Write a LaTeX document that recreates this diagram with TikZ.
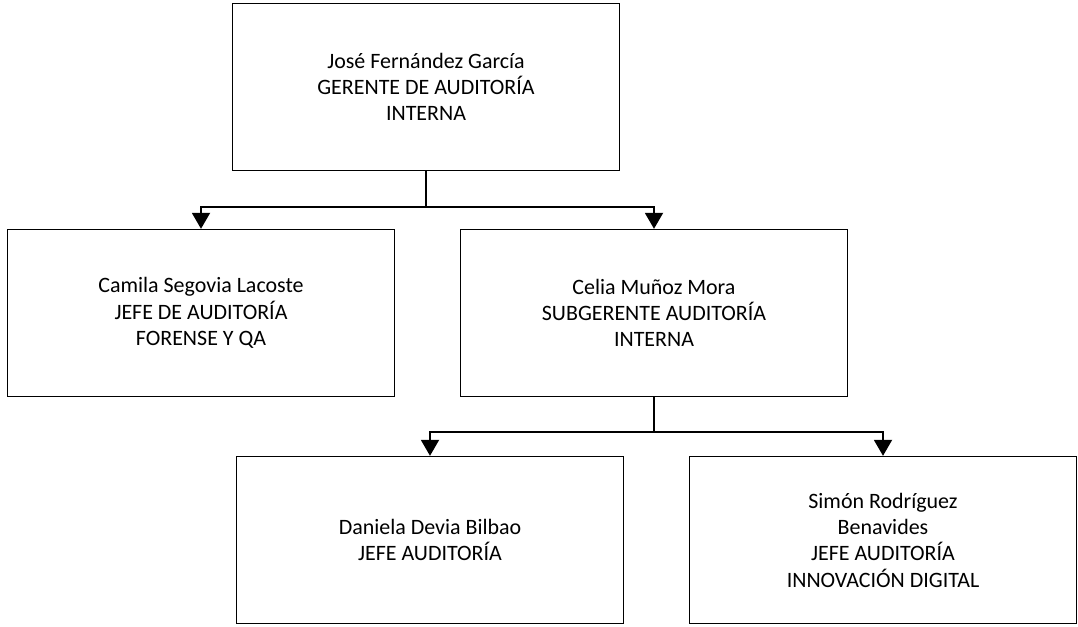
\documentclass[tikz,border=0pt]{standalone}
\usepackage{fontspec}
\setmainfont{Carlito}
\usetikzlibrary{arrows.meta,positioning}

\begin{document}
\begin{tikzpicture}[
    x=0.02cm, y=-0.02cm,
    puesto/.style={rectangle, draw, line width=0.8pt, minimum width=7.74cm, minimum height=3.34cm,
      align=center, font=\fontsize{12.5}{15}\selectfont},
    enlace/.style={line width=1.1pt},
    flecha/.style={enlace, -{Triangle[width=0.36cm, length=0.32cm]}}
]
\useasboundingbox (0,0) rectangle (1078,626);

% Gerencia
\node (gerente) at (426,87) [puesto] {José Fernández García\\GERENTE DE AUDITORÍA\\INTERNA};

% Jefaturas directas
\node (forense) at (201,313) [puesto] {Camila Segovia Lacoste\\JEFE DE AUDITORÍA\\FORENSE Y QA};
\node (subgerente) at (654,313) [puesto] {Celia Muñoz Mora\\SUBGERENTE AUDITORÍA\\INTERNA};

% Jefaturas bajo subgerencia
\node (jefeaud) at (430,540) [puesto] {Daniela Devia Bilbao\\JEFE AUDITORÍA};
\node (innovacion) at (883,540) [puesto] {Simón Rodríguez\\Benavides\\JEFE AUDITORÍA\\INNOVACIÓN DIGITAL};

% Conectores
\draw[enlace] (gerente.south) -- ++(0,36) coordinate (g1);
\draw[flecha] (g1) -| (forense.north);
\draw[flecha] (g1) -| (subgerente.north);

\draw[enlace] (subgerente.south) -- ++(0,35) coordinate (s1);
\draw[flecha] (s1) -| (jefeaud.north);
\draw[flecha] (s1) -| (innovacion.north);

\end{tikzpicture}
\end{document}
